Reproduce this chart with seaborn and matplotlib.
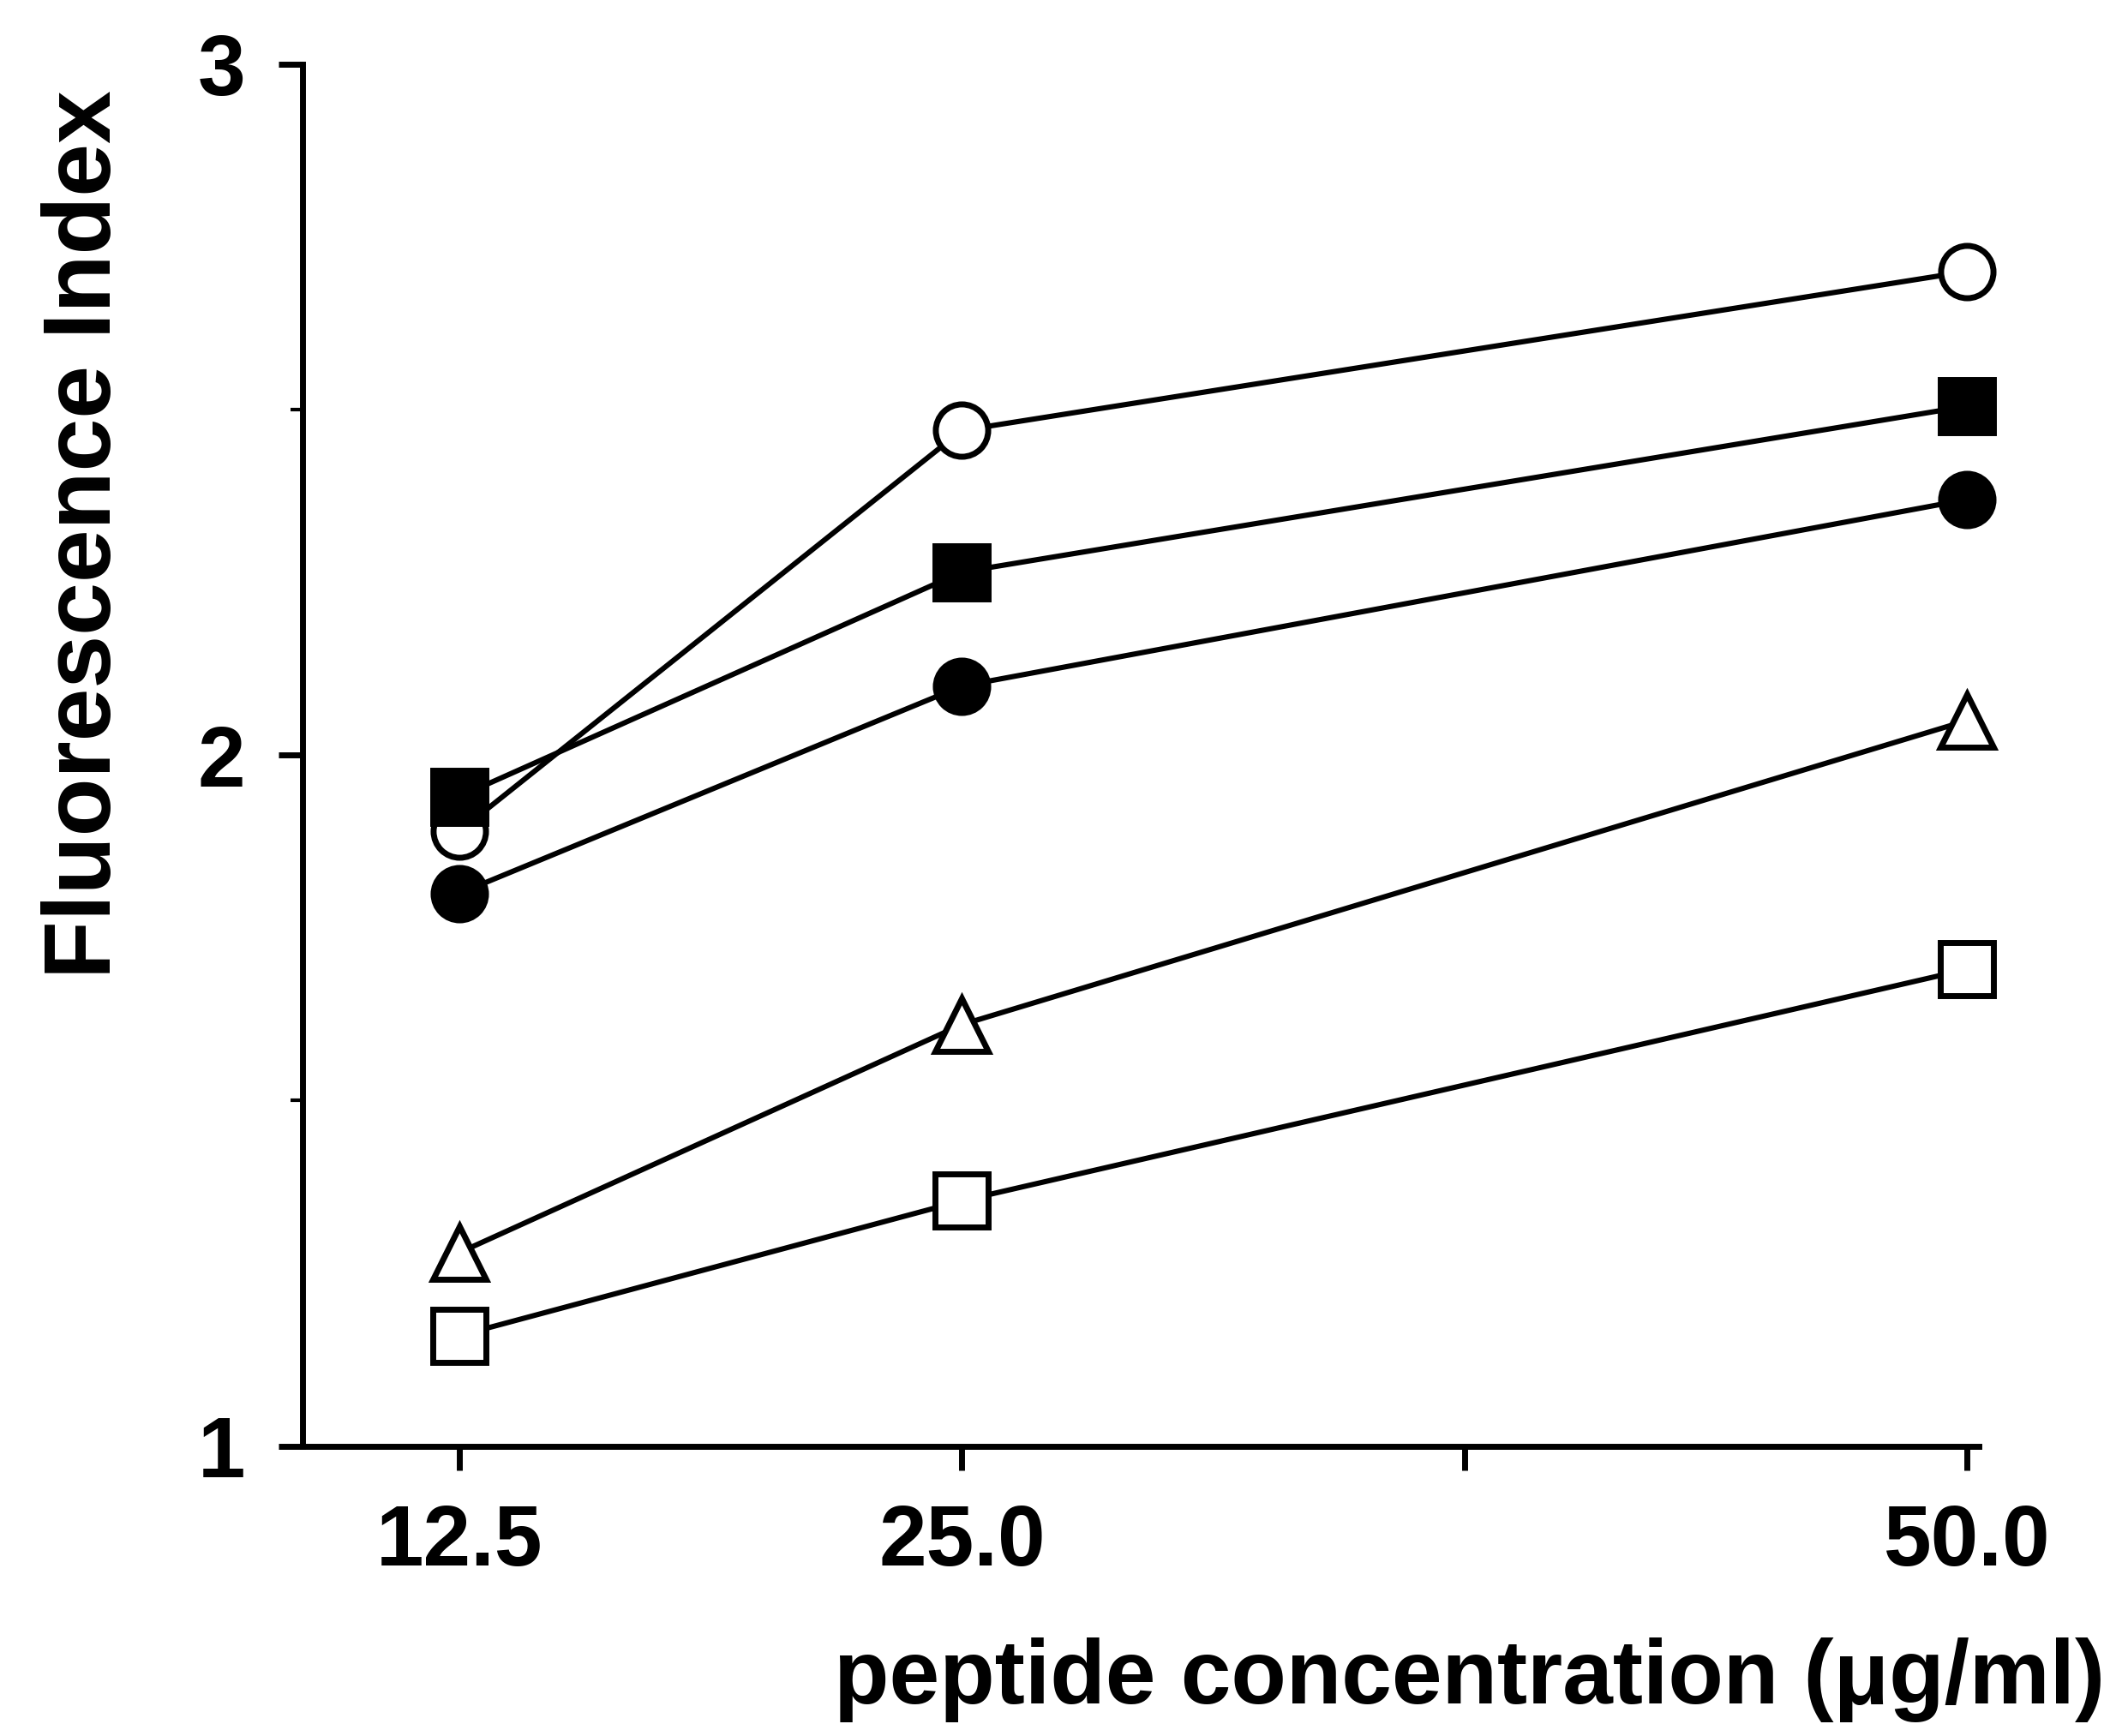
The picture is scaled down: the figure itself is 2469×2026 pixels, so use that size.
import pandas as pd
import seaborn as sns
import matplotlib.pyplot as plt

conc = [12.5, 25.0, 50.0]
open_circle = [1.89, 2.47, 2.70]
filled_square = [1.94, 2.265, 2.505]
filled_circle = [1.80, 2.10, 2.37]
open_triangle = [1.28, 1.61, 2.05]
open_square = [1.16, 1.355, 1.69]

series = [
    (open_circle, "o", "white"),
    (filled_square, "s", "black"),
    (filled_circle, "o", "black"),
    (open_triangle, "^", "white"),
    (open_square, "s", "white"),
]

sns.set_style("ticks")
plt.rcParams["font.family"] = ["Liberation Sans", "DejaVu Sans"]
plt.rcParams["font.weight"] = "bold"
plt.rcParams["text.color"] = "black"
plt.rcParams["axes.labelcolor"] = "black"
plt.rcParams["xtick.color"] = "black"
plt.rcParams["ytick.color"] = "black"
plt.rcParams["axes.edgecolor"] = "black"

fig = plt.figure(figsize=(12.345, 10.13), dpi=200)
ax = fig.add_axes([0.143, 0.167, 0.815, 0.796])

for vals, mk, fc in series:
    df = pd.DataFrame({"conc": conc, "fi": vals})
    sns.lineplot(data=df, x="conc", y="fi", ax=ax, color="black", lw=2.2,
                 marker=mk, markersize=22, markerfacecolor=fc,
                 markeredgecolor="black", markeredgewidth=2.5)

ax.set_xlim(8.6, 51.5)
ax.set_ylim(1, 3)
ax.spines["top"].set_visible(False)
ax.spines["right"].set_visible(False)
ax.spines["bottom"].set_bounds(8.6, 50.3)
for s in ["left", "bottom"]:
    ax.spines[s].set_linewidth(2.5)
ax.set_xticks([12.5, 25.0, 37.5, 50.0])
ax.set_xticklabels(["12.5", "25.0", "", "50.0"], fontsize=36, fontweight="bold")
ax.set_yticks([1, 2, 3])
ax.set_yticklabels(["1", "2", "3"], fontsize=36, fontweight="bold")
ax.set_yticks([1.5, 2.5], minor=True)
ax.tick_params(axis="both", which="major", length=10, width=2.5, pad=14)
ax.tick_params(axis="y", which="minor", length=5, width=1.5)
ax.set_xlabel("peptide concentration (\u03bcg/ml)", fontsize=38, fontweight="bold")
ax.xaxis.set_label_coords(1.045, -0.2)
ax.xaxis.label.set_horizontalalignment("right")
ax.xaxis.label.set_verticalalignment("bottom")
ax.set_ylabel("Fluorescence Index", fontsize=40, fontweight="bold")
ax.yaxis.set_label_coords(-0.1, 0.66)

fig.savefig("out.png", dpi=200)
